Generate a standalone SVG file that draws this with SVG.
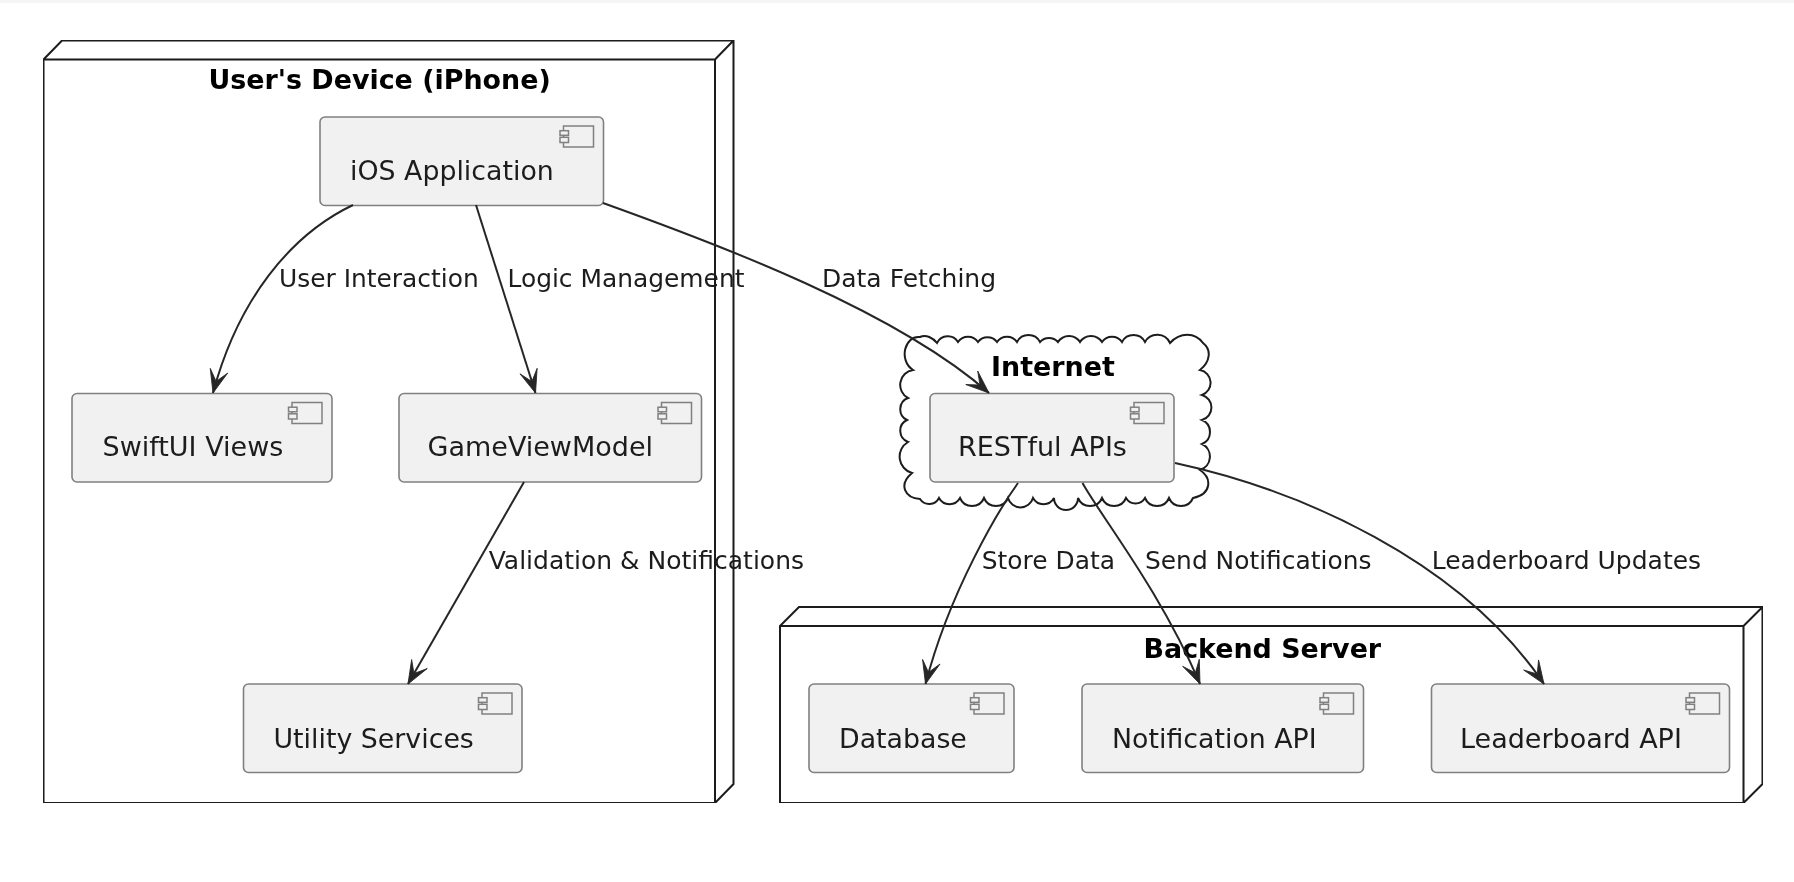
<svg xmlns="http://www.w3.org/2000/svg" width="1794" height="882" viewBox="0 0 1794 882">
<style>
text{font-family:"DejaVu Sans",sans-serif;fill:#1c1c1c}
.t{font-size:26.8px}
.w{font-size:27px}
.l{font-size:24.9px}
.m{font-size:25px}
.b{font-size:26.9px;font-weight:bold;fill:#000}
.c{fill:none;stroke:#1c1c1c;stroke-width:2}
.box{fill:#f1f1f1;stroke:#808080;stroke-width:1.6}
.ic{fill:#f1f1f1;stroke:#808080;stroke-width:1.5}
.e{fill:none;stroke:#262626;stroke-width:2}
</style>
<defs>
<marker id="a" markerUnits="userSpaceOnUse" markerWidth="26" markerHeight="22" refX="24" refY="11" orient="auto" overflow="visible"><path d="M24,11 L1,2 L12,11 L1,20 Z" fill="#262626" stroke="#262626" stroke-width="0.8"/></marker>
<g id="icon"><rect class="ic" x="-40" y="9" width="30" height="21"/><rect class="ic" x="-43.5" y="13.7" width="8.5" height="4.6"/><rect class="ic" x="-43.5" y="20.3" width="8.5" height="5.2"/></g>
<filter id="s" x="0" y="0" width="100%" height="100%"><feGaussianBlur stdDeviation="0.65"/></filter>
</defs>
<rect width="1794" height="882" fill="#fff"/>
<rect width="1794" height="3" fill="#f5f5f5"/>
<g filter="url(#s)">
<g id="device">
<path class="c" d="M43.5,59.5 L62,40.5 H733.5 V784 L715,803 H43.5 Z M43.5,59.5 H715 V803 M715,59.5 L733.5,40.5"/>
<text class="b" x="208.4" y="89">User's Device (iPhone)</text>
</g>
<g id="backend">
<path class="c" d="M780,626 L799,607 H1762.5 V784 L1743.5,803 H780 Z M780,626 H1743.5 V803 M1743.5,626 L1762.5,607"/>
<text class="b" x="1143.5" y="658">Backend Server</text>
</g>
<g id="internet">
<path class="c" d="M913,370 C898,360 905,335 920,337 C926,334 933,338 937,343 A12 12 0 0 1 958,342 A12 12 0 0 1 978,342 A12 12 0 0 1 997,342 A12 12 0 0 1 1017,342 A13 13 0 0 1 1040,342 A12 12 0 0 1 1058,342 A13 13 0 0 1 1080,342 A13 13 0 0 1 1102,342 A12 12 0 0 1 1122,342 A13 13 0 0 1 1145,342 A14 14 0 0 1 1170,343 C1180,332 1195,332 1203,343 C1212,350 1210,362 1200,370 A13 13 0 0 1 1202,395 A13 13 0 0 1 1202,420 A13 13 0 0 1 1202,444 A14 14 0 0 1 1200,470 C1212,478 1212,494 1193,498 A13 13 0 0 1 1169,498 A13 13 0 0 1 1145,498 A11 11 0 0 1 1126,498 A13 13 0 0 1 1102,498 A13 13 0 0 1 1078,498 A12 12 0 0 1 1054,498 A12 12 0 0 1 1033,498 A13 13 0 0 1 1008,498 A13 13 0 0 1 984,498 A13 13 0 0 1 960,498 A12 12 0 0 1 939,498 A11 11 0 0 1 920,499 C905,498 898,485 912,473 A17 17 0 0 1 908,442 A12 12 0 0 1 907,420 A12 12 0 0 1 908,398 A15 15 0 0 1 913,370 Z"/>
<text class="b" x="991" y="376">Internet</text>
</g>
<g id="ios"><rect class="box" x="320" y="117" width="283.5" height="88.5" rx="5"/><use href="#icon" x="603.5" y="117"/><text class="t" x="350" y="180">iOS Application</text></g>
<g id="swiftui"><rect class="box" x="72" y="393.5" width="260" height="88.5" rx="5"/><use href="#icon" x="332" y="393.5"/><text class="w" x="102.5" y="456">SwiftUI Views</text></g>
<g id="gameviewmodel"><rect class="box" x="399" y="393.5" width="302.5" height="88.5" rx="5"/><use href="#icon" x="701.5" y="393.5"/><text class="w" x="427.5" y="456">GameViewModel</text></g>
<g id="utility"><rect class="box" x="243.5" y="684" width="278.5" height="88.5" rx="5"/><use href="#icon" x="522" y="684"/><text class="t" x="273.5" y="748">Utility Services</text></g>
<g id="rest"><rect class="box" x="930" y="393.5" width="244" height="88.5" rx="5"/><use href="#icon" x="1174" y="393.5"/><text class="w" x="958" y="456">RESTful APIs</text></g>
<g id="database"><rect class="box" x="809" y="684" width="205" height="88.5" rx="5"/><use href="#icon" x="1014" y="684"/><text class="t" x="839" y="748">Database</text></g>
<g id="notification"><rect class="box" x="1082" y="684" width="281.5" height="88.5" rx="5"/><use href="#icon" x="1363.5" y="684"/><text class="t" x="1112" y="748">Notification API</text></g>
<g id="leaderboard"><rect class="box" x="1431.5" y="684" width="298" height="88.5" rx="5"/><use href="#icon" x="1729.5" y="684"/><text class="w" x="1460" y="748">Leaderboard API</text></g>
<g id="connectors">
<path class="e" marker-end="url(#a)" d="M353,205 C290,235 238,300 213,393"/>
<path class="e" marker-end="url(#a)" d="M476,205 L535.5,393"/>
<path class="e" marker-end="url(#a)" d="M603,203 C720,245 896,311 989,393"/>
<path class="e" marker-end="url(#a)" d="M524,482 L408,684"/>
<path class="e" marker-end="url(#a)" d="M1018,483 C1000,508 950,590 925.5,684"/>
<path class="e" marker-end="url(#a)" d="M1082.5,483 C1100,515 1160,590 1200,684"/>
<path class="e" marker-end="url(#a)" d="M1175,463 C1300,490 1460,560 1544,684"/>
</g>
<g id="labels">
<text class="l" x="279" y="287">User Interaction</text>
<text class="l" x="507.5" y="287">Logic Management</text>
<text class="m" x="822" y="287">Data Fetching</text>
<text class="m" x="488.7" y="569">Validation &amp; Notifications</text>
<text class="l" x="981.8" y="569">Store Data</text>
<text class="l" x="1145" y="569">Send Notifications</text>
<text class="m" x="1431.7" y="569">Leaderboard Updates</text>
</g>
</g>
</svg>
